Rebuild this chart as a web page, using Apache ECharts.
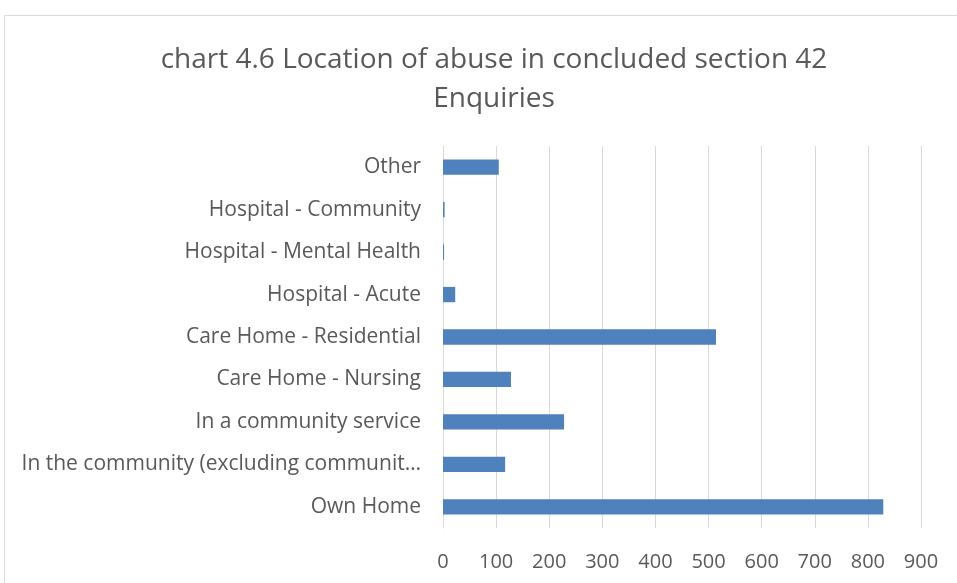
<!DOCTYPE html>
<html>
<head>
<meta charset="utf-8">
<script src="https://cdn.jsdelivr.net/npm/echarts@6/dist/echarts.min.js"></script>
<style>
	html, body { margin: 0; padding: 0; background: #fff; }
	#LocationBar { width: 957px; height: 583px; }
</style>
</head>
<body>
<div id="LocationBar"></div>
<script>
// 地点分类（从下到上）
var locations = [
	'Own Home',
	'In the community (excluding community services)',
	'In a community service',
	'Care Home - Nursing',
	'Care Home - Residential',
	'Hospital - Acute',
	'Hospital - Mental Health',
	'Hospital - Community',
	'Other'
];
var enquiryCounts = [829, 117, 228, 128, 514, 23, 2, 3, 105];
var xTicks = [0, 100, 200, 300, 400, 500, 600, 700, 800, 900];

var LocationBar = echarts.init(document.getElementById('LocationBar'));
LocationBar.setOption({
	animation: false,
	title: {
		text: 'chart 4.6 Location of abuse in concluded section 42\nEnquiries',
		left: 489,
		top: 36,
		textAlign: 'center',
		textStyle: {
			color: '#595959',
			fontFamily: 'Open Sans',
			fontWeight: 'normal',
			fontSize: 28,
			lineHeight: 39
		}
	},
	graphic: [{
		type: 'rect',
		shape: { x: 4.5, y: 15.5, width: 1000, height: 600 },
		style: { fill: 'none', stroke: '#d9d9d9', lineWidth: 1 },
		silent: true
	}],
	grid: {
		left: 443,
		right: 36,
		top: 146,
		bottom: 55
	},
	xAxis: {
		type: 'value',
		min: xTicks[0],
		max: xTicks[xTicks.length - 1],
		interval: 100,
		axisLine: { show: false },
		axisTick: { show: false },
		splitLine: { lineStyle: { color: '#d9d9d9', width: 1 } },
		axisLabel: {
			color: '#595959',
			fontFamily: 'Open Sans',
			fontSize: 20,
			margin: 24
		}
	},
	yAxis: {
		type: 'category',
		data: locations,
		axisLine: { lineStyle: { color: '#d9d9d9' } },
		axisTick: { show: false },
		axisLabel: {
			color: '#595959',
			fontFamily: 'Open Sans',
			fontSize: 21,
			margin: 22,
			width: 402,
			overflow: 'truncate',
			ellipsis: '…'
		}
	},
	series: [{
		name: 'Enquiries',
		type: 'bar',
		data: enquiryCounts,
		barWidth: '36%',
		itemStyle: { color: '#4f81bd' }
	}]
});
</script>
</body>
</html>
